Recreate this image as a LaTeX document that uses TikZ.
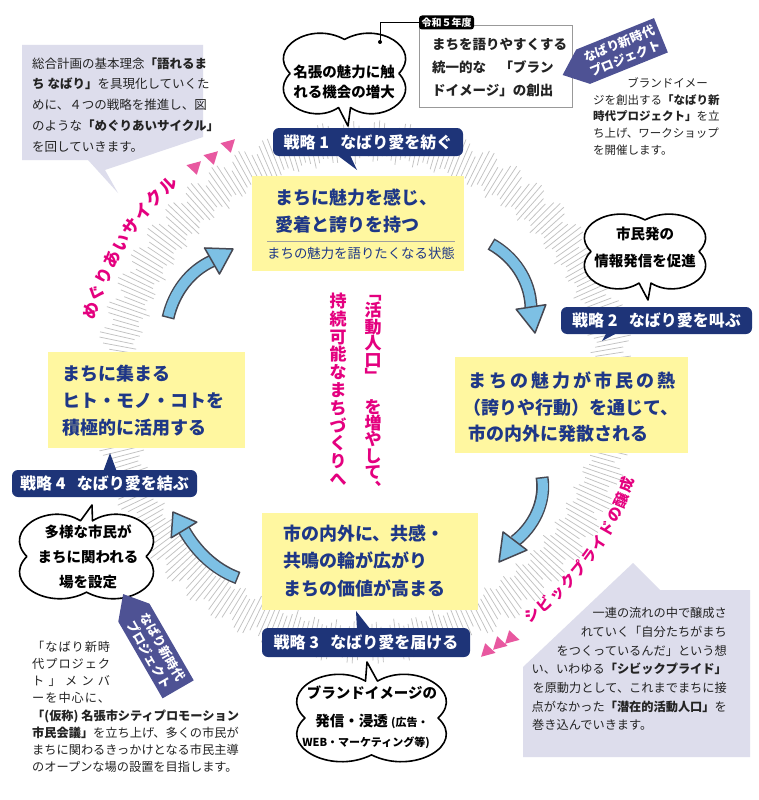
\documentclass[tikz,border=0pt]{standalone}
\usepackage{fontspec}
\setmainfont{Noto Sans CJK JP}
\usetikzlibrary{calc,shapes.symbols}
\definecolor{navy}{RGB}{30,52,120}
\definecolor{yfill}{RGB}{255,247,160}
\definecolor{ytext}{RGB}{30,55,135}
\definecolor{lav}{RGB}{221,221,236}
\definecolor{tagc}{RGB}{78,82,148}
\definecolor{pinkc}{RGB}{228,0,127}
\definecolor{tric}{RGB}{232,88,160}
\definecolor{afill}{RGB}{125,192,228}
\definecolor{aedge}{RGB}{70,72,82}
\definecolor{txt}{RGB}{35,35,35}
\newcommand\fs[1]{\fontsize{#1}{#1}\selectfont}
\newcommand\fsl[2]{\fontsize{#1}{#2}\selectfont}
\newcommand\cloudB[7]{% name cx cy a b tipdx tipdy (pointer at bottom)
 \coordinate (#1) at (#2,#3);
 \draw[cloudline, shift={(#2,#3)}]
  (0,{-0.82*#5})
  .. controls ({0.55*#4},{-1.28*#5}) and ({1.25*#4},{-0.6*#5}) .. ({0.87*#4},0)
  .. controls ({1.25*#4},{0.6*#5}) and ({0.55*#4},{1.28*#5}) .. (6,{0.82*#5})
  -- (#6,#7) -- (-6,{0.82*#5})
  .. controls ({-0.55*#4},{1.28*#5}) and ({-1.25*#4},{0.6*#5}) .. ({-0.87*#4},0)
  .. controls ({-1.25*#4},{-0.6*#5}) and ({-0.55*#4},{-1.28*#5}) .. cycle;}
\newcommand\cloudT[7]{% name cx cy a b tipdx tipdy (pointer at top)
 \coordinate (#1) at (#2,#3);
 \draw[cloudline, shift={(#2,#3)}]
  (6,{-0.82*#5})
  .. controls ({0.55*#4},{-1.28*#5}) and ({1.25*#4},{-0.6*#5}) .. ({0.87*#4},0)
  .. controls ({1.25*#4},{0.6*#5}) and ({0.55*#4},{1.28*#5}) .. (0,{0.82*#5})
  .. controls ({-0.55*#4},{1.28*#5}) and ({-1.25*#4},{0.6*#5}) .. ({-0.87*#4},0)
  .. controls ({-1.25*#4},{-0.6*#5}) and ({-0.55*#4},{-1.28*#5}) .. (-6,{-0.82*#5})
  -- (#6,#7) -- cycle;}
\newcommand\cyclearrow[6]{%
 \coordinate (#1s) at #2;
 \coordinate (#1e) at #5;
 \coordinate (#1t) at #6;
 \draw[aedge, line width=13pt] (#1s) .. controls #3 and #4 .. (#1e);
 \draw[afill, line width=10pt, shorten <=1.5pt] (#1s) .. controls #3 and #4 .. (#1e);
 \filldraw[fill=afill, draw=aedge, line width=1.5pt, line join=round]
  ($(#1e)!15pt!90:(#1t)$) -- (#1t) -- ($(#1e)!15pt!-90:(#1t)$) -- cycle;}
\newcommand\tri[3]{%
 \fill[tric] ({#1+7*cos(#3)},{#2-7*sin(#3)})
  -- ({#1-5*cos(#3)-7.5*sin(#3)},{#2+5*sin(#3)-7.5*cos(#3)})
  -- ({#1-5*cos(#3)+7.5*sin(#3)},{#2+5*sin(#3)+7.5*cos(#3)}) -- cycle;}
\tikzset{
 hatchline/.style={draw=gray!48, line width=0.75pt},
 ybox/.style={fill=yfill, draw=none, inner sep=0, anchor=north west},
 slabel/.style={fill=navy, rounded corners=6pt, text=white, font=\fs{16}\bfseries, inner sep=0},
 ytxt/.style={text=ytext, font=\fs{18}\bfseries, inner sep=0, anchor=base west},
 notetxt/.style={text=txt, inner sep=0},
 cloudline/.style={draw=black, fill=white, line width=1.6pt, line join=round},
 cloudtxt/.style={align=center, inner sep=0},
 tagshape/.style={signal, signal to=west, signal from=nowhere, signal pointer angle=80,
   fill=tagc, text=white, font=\fsl{12.5}{16}\bfseries, align=center, inner sep=1pt},
 vchar/.style={text=pinkc, font=\fs{17}\bfseries, inner sep=0, text height=14.96pt, text depth=2.04pt},
 arcA/.style={text=pinkc, font=\fs{17}\bfseries, inner sep=0, text height=14.96pt, text depth=2.04pt},
 arcB/.style={text=pinkc, font=\fs{15}\bfseries, inner sep=0, text height=13.2pt, text depth=1.8pt},
}
\begin{document}
\begin{tikzpicture}[x=1pt,y=-1pt]
\useasboundingbox (0,0) rectangle (759,800);
\fill[white] (0,0) rectangle (759,800);

% ---- hatched ring
\foreach \a in {0,1.1,...,359}{
  \pgfmathsetmacro\ri{228+9*abs(sin(\a*37))}
  \pgfmathsetmacro\ro{258+14*abs(cos(\a*29))}
  \draw[hatchline] ({365+\ri*cos(\a)},{392-\ri*sin(\a)}) -- ({365+\ro*cos(\a)},{392-\ro*sin(\a)});
}

% ---- pink arc texts and triangles
\foreach \c [count=\i from 0] in {め,ぐ,り,あ,い,サ,イ,ク,ル}{
  \pgfmathsetmacro\th{163.5-\i*3.75}
  \node[arcA, rotate=\th-90] (arcA\i) at ({365+286*cos(\th)},{392-286*sin(\th)}) {\c};
}
\foreach \c [count=\i from 0] in {シ,ビ,ッ,ク,プ,ラ,イ,ド,の,醸,成}{
  \pgfmathsetmacro\th{-53+\i*3.35}
  \node[arcB, rotate=\th+90] (arcB\i) at ({365+278*cos(\th)},{392-278*sin(\th)}) {\c};
}
\tri{195}{168}{-75}
\tri{212}{158}{-75}
\tri{229}{146}{-75}
\tri{487}{650}{105}
\tri{499}{643}{105}
\tri{511}{637}{105}

% ---- note boxes
\fill[lav] (22,45) -- (203,45) -- (203,137) -- (105,170) -- (118,193) -- (88,160) -- (22,160) -- cycle;
\coordinate (noteA) at (112,100);
\foreach \t [count=\i from 0] in {{総合計画の基本理念\textbf{「語れるま}},{\textbf{ち なばり」}を具現化していくた},{めに、４つの戦略を推進し、図},{のような\textbf{「めぐりあいサイクル」}},{を回していきます。}}
  \node[notetxt, font=\fs{12.5}, anchor=base west] (na\i) at (32,{68+\i*20.9}) {\t};

\fill[lav] (750,590) -- (750,757) -- (523,757) -- (523,667) -- (633,563) -- (660,590) -- cycle;
\coordinate (noteB) at (640,670);
\foreach \t [count=\i from 0] in {{一連の流れの中で醸成さ},{れていく「自分たちがまち},{をつくっているんだ」という想},{い、いわゆる\textbf{「シビックプライド」}},{を原動力として、これまでまちに接},{点がなかった\textbf{「潜在的活動人口」}を}}
  \node[notetxt, font=\fs{12.2}, anchor=base east] (nb\i) at (727,{617.6+\i*18.7}) {\t};
\node[notetxt, font=\fs{12.2}, anchor=base west] (nb6) at (532,{617.6+6*18.7}) {巻き込んでいきます。};

% top-right text
\node[notetxt, font=\fs{11.5}, anchor=base east] (nc0) at (708,87.4) {ブランドイメー};
\foreach \t [count=\i from 1] in {{ジを創出する\textbf{「なばり新}},{\textbf{時代プロジェクト」}を立},{ち上げ、ワークショップ},{を開催します。}}
  \node[notetxt, font=\fs{11.5}, anchor=base west] (nc\i) at (593,{87.4+\i*16.75}) {\t};

% bottom-left text
\foreach \t [count=\i from 0] in {{「\hfil な\hfil ば\hfil り\hfil 新\hfil 時},{代\hfil プ\hfil ロ\hfil ジ\hfil ェ\hfil ク},{ト\hfil 」\hfil メ\hfil ン\hfil バ},{ー\hfil を\hfil 中\hfil 心\hfil に\hfil 、}}
  \node[notetxt, font=\fs{12.2}, anchor=base west] (nd\i) at (32,{651.5+\i*16.9}) {\makebox[78pt][s]{\t}};
\foreach \t [count=\i from 4] in {{\textbf{「(仮称) 名張市シティプロモーション}},{\textbf{市民会議」}を立ち上げ、多くの市民が},{まちに関わるきっかけとなる市民主導},{のオープンな場の設置を目指します。}}
  \node[notetxt, font=\fs{12.2}, anchor=base west] (nd\i) at (32,{652+\i*17.1}) {\t};

% ---- yellow boxes
\node[ybox, minimum width=212, minimum height=95] (y1) at (252,176) {};
\node[ytxt] (y1a) at (275,204.5) {まちに魅力を感じ、};
\node[ytxt] (y1b) at (275,231) {愛着と誇りを持つ};
\draw[gray!75, line width=1pt] (267,241) -- (455,241);
\node[text=ytext, font=\fs{13.4}, inner sep=0, anchor=base] (y1c) at (361,258.5) {まちの魅力を語りたくなる状態};

\node[ybox, minimum width=233, minimum height=96] (y2) at (455,357) {};
\node[ytxt] (y2a) at (468,387) {\makebox[207pt][s]{ま\hfil ち\hfil の\hfil 魅\hfil 力\hfil が\hfil 市\hfil 民\hfil の\hfil 熱}};
\node[ytxt] (y2b) at (463,414) {（誇りや行動）を通じて、};
\node[ytxt] (y2c) at (468,440) {市の内外に発散される};

\node[ybox, minimum width=216, minimum height=97] (y3) at (262,513) {};
\node[ytxt] (y3a) at (283,540) {市の内外に、共感・};
\node[ytxt] (y3b) at (283,567) {共鳴の輪が広がり};
\node[ytxt] (y3c) at (283,595) {まちの価値が高まる};

\node[ybox, minimum width=197, minimum height=96] (y4) at (48,352) {};
\node[ytxt] (y4a) at (62,380) {まちに集まる};
\node[ytxt] (y4b) at (62,407) {ヒト・モノ・コトを};
\node[ytxt] (y4c) at (62,434) {積極的に活用する};

% ---- strategy labels
\fill[navy] (337,155) -- (350,155) -- (357,170) -- cycle;
\node[slabel, minimum width=190, minimum height=28] (L1) at (368,142) {戦略 1\hspace{0.7em}なばり愛を紡ぐ};
\fill[navy] (607,332) -- (619,332) -- (602,341) -- cycle;
\node[slabel, minimum width=191, minimum height=27] (L2) at (656.5,320.5) {戦略 2\hspace{0.7em}なばり愛を叫ぶ};
\fill[navy] (357,630) -- (371,630) -- (356,611) -- cycle;
\node[slabel, minimum width=208, minimum height=29] (L3) at (366,642.5) {戦略 3\hspace{0.7em}なばり愛を届ける};
\fill[navy] (103,472) -- (117,472) -- (110,453) -- cycle;
\node[slabel, minimum width=185, minimum height=27] (L4) at (104.5,483.5) {戦略 4\hspace{0.7em}なばり愛を結ぶ};

% ---- clouds
\cloudB{cl1}{344.5}{73.5}{62.5}{41.5}{3.5}{52.5}
\node[cloudtxt, font=\fsl{14.5}{20}\bfseries] (cl1t) at (344,82) {名張の魅力に触\\れる機会の増大};
\cloudB{cl2}{645}{251.5}{62}{38.5}{3}{48.5}
\node[cloudtxt, font=\fsl{14.5}{27}\bfseries] (cl2t) at (645,247) {市民発の\\情報発信を促進};
\cloudT{cl3}{371.5}{718}{76.5}{45}{-4.5}{-56}
\node[cloudtxt, font=\fs{14.5}\bfseries] (cl3a) at (372,693) {ブランドイメージの};
\node[cloudtxt, font=\fs{14.5}\bfseries] (cl3b) at (372,721) {発信・浸透 {\fs{11}(広告・}};
\node[cloudtxt, font=\fs{11}\bfseries] (cl3c) at (366,743) {WEB・マーケティング等)};
\cloudT{cl4}{86.5}{556.5}{68.5}{43.5}{5.5}{-51.5}
\node[cloudtxt, font=\fsl{14.5}{25}\bfseries] (cl4t) at (88,557) {多様な市民が\\まちに関われる\\場を設定};

% ---- box C with year tag
\node[draw=gray!80, line width=0.9pt, minimum width=153, minimum height=82, anchor=north west, inner sep=0] (boxC) at (419,25) {};
\node[notetxt, font=\fs{13.5}\bfseries, anchor=base west] (bc0) at (432,50) {まちを語りやすくする};
\node[notetxt, font=\fs{13.5}\bfseries, anchor=base west] (bc1) at (432,73) {統一的な　「ブラン};
\node[notetxt, font=\fs{13.5}\bfseries, anchor=base west] (bc2) at (432,95) {ドイメージ」の創出};
\node[fill=black, rounded corners=3pt, text=white, font=\fs{10}\bfseries, minimum width=55, minimum height=14, inner sep=0] (tagR) at (446.5,22.5) {令和５年度};
\coordinate (c1dot) at (380,42);
\draw[black, line width=0.8pt] (c1dot) |- (tagR.west);
\fill (c1dot) circle (2);

% ---- project tags
\node[tagshape, rotate=22, minimum width=106, minimum height=37] (tag1) at (622,51) {なばり新時代\\プロジェクト};
\node[tagshape, rotate=-60, minimum width=110, minimum height=36] (tag2) at (156,651) {なばり新時代\\プロジェクト};

% ---- vertical pink text
\foreach \c [count=\i from 0] in {持,続,可,能,な,ま,ち,づ,く,り,へ}
  \node[vchar] (vl\i) at (338,{301+\i*17.8}) {\c};
\foreach \c/\y [count=\i from 0] in {﹁/293,活/310,動/327,人/343.5,口/360,﹂/376.5,を/407,増/423,や/439.5,し/456,て/472,︑/489}
  \node[vchar] (vr\i) at (373,\y) {\c};

% ---- cycle arrows
\cyclearrow{a1}{(168,318)}{(174,292)}{(190,271)}{(212,261)}{(233,249)}
\cyclearrow{a2}{(491,244)}{(514,257)}{(530,280)}{(531,307)}{(535,333)}
\cyclearrow{a3}{(542,477)}{(546,503)}{(533,527)}{(515,541)}{(499,562)}
\cyclearrow{a4}{(238,578)}{(214,569)}{(196,551)}{(184,530)}{(173,512)}
\end{tikzpicture}
\end{document}
